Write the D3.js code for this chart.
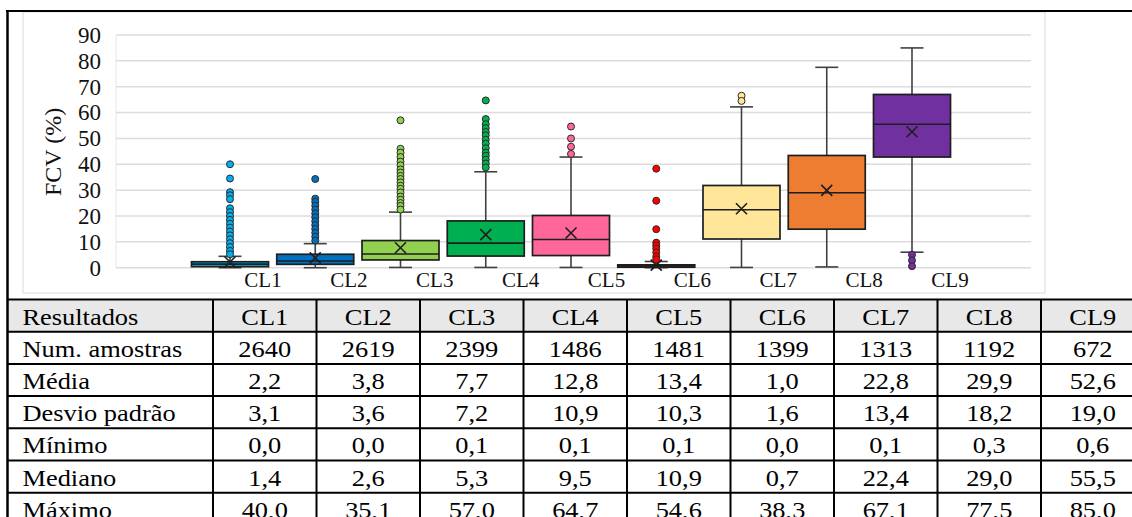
<!DOCTYPE html>
<html>
<head>
<meta charset="utf-8">
<script src="https://cdn.jsdelivr.net/npm/d3@7"></script>
<style>
  html, body { margin: 0; padding: 0; background: #fff; overflow: hidden; }
  svg { display: block; }
</style>
</head>
<body>
<div id="chart"></div>
<script>
// ─── DATA ────────────────────────────────────────────────────────────────────
const classes = ["CL1", "CL2", "CL3", "CL4", "CL5", "CL6", "CL7", "CL8", "CL9"];
const colors  = ["#00b0f0", "#0070c0", "#92d050", "#00b050", "#ff6699",
                 "#ff0000", "#ffe699", "#ed7d31", "#7030a0"];

// box plot values
const q1          = [0.4, 1.3, 3.0, 4.5, 4.7, 0.2, 11.1, 14.9, 42.8];
const medians     = [1.4, 2.6, 5.3, 9.5, 10.9, 0.7, 22.4, 29.0, 55.5];
const q3          = [2.3, 5.2, 10.5, 18.1, 20.2, 1.1, 31.8, 43.4, 67.0];
const means       = [2.2, 3.8, 7.7, 12.8, 13.4, 1.0, 22.8, 29.9, 52.6];
const whiskerLow  = [0.0, 0.0, 0.1, 0.1, 0.1, 0.0, 0.1, 0.3, 6.0];
const whiskerHigh = [4.4, 9.3, 21.5, 37.1, 42.8, 2.4, 62.2, 77.5, 85.0];
const outliers = [
  [40.0, 34.5, 29.2, 28.0, 26.5, 23.0, 21.5, 20.0, 18.5, 17.0, 15.5, 14.0, 12.5, 11.0, 9.5, 8.0, 6.5, 5.2],
  [34.3, 26.7, 25.5, 24.0, 22.5, 21.0, 19.5, 18.0, 16.5, 15.0, 13.5, 12.0, 10.5],
  [57.0, 46.0, 44.5, 42.8, 41.0, 39.6, 38.0, 36.8, 35.5, 34.3, 33.0, 31.7, 30.5, 29.1, 27.5, 26.3, 25.0, 23.9, 22.5],
  [64.7, 57.5, 55.5, 54.0, 52.5, 51.2, 49.5, 48.0, 46.2, 44.5, 43.3, 41.8, 40.3, 38.8],
  [54.6, 50.0, 46.8, 44.0],
  [38.3, 25.9, 14.9, 9.7, 8.6, 7.4, 5.9, 4.3, 3.2],
  [66.5, 64.5],
  [],
  [5.0, 2.8, 0.6]
];
const yTicks = [0, 10, 20, 30, 40, 50, 60, 70, 80, 90];

// table values
const rowLabels  = ["Num. amostras", "Média", "Desvio padrão", "Mínimo", "Mediano", "Máximo"];
const nAmostras  = [2640, 2619, 2399, 1486, 1481, 1399, 1313, 1192, 672];
const media      = [2.2, 3.8, 7.7, 12.8, 13.4, 1.0, 22.8, 29.9, 52.6];
const desvio     = [3.1, 3.6, 7.2, 10.9, 10.3, 1.6, 13.4, 18.2, 19.0];
const minimo     = [0.0, 0.0, 0.1, 0.1, 0.1, 0.0, 0.1, 0.3, 0.6];
const mediano    = [1.4, 2.6, 5.3, 9.5, 10.9, 0.7, 22.4, 29.0, 55.5];
const maximo     = [40.0, 35.1, 57.0, 64.7, 54.6, 38.3, 67.1, 77.5, 85.0];

// ─── SETUP ───────────────────────────────────────────────────────────────────
const W = 1132, H = 517;
const FONT = "'Liberation Serif', 'Times New Roman', serif";

const svg = d3.select("#chart").append("svg")
  .attr("width", W).attr("height", H)
  .style("font-family", FONT);

// caption line above the figure (only its lower edge is inside the picture)
svg.append("text")
  .attr("x", -2).attr("y", -5)
  .style("font-size", "23px").style("font-weight", "bold")
  .text("Figura 11 – FCV (a) por classe");

// chart frame (light grey)
svg.append("rect")
  .attr("x", 23).attr("y", 12).attr("width", 1022).attr("height", 281)
  .attr("fill", "#fff").attr("stroke", "#d9d9d9").attr("stroke-width", 1);

// scales
const y = d3.scaleLinear().domain([0, 90]).range([267.7, 35]);
const x = d3.scalePoint().domain(classes).range([230, 912]);
const xLabel = d3.scalePoint().domain(classes).range([263, 950]);
const plotLeft = 116, plotRight = 1031;
const boxW = 77, capW = 23, xSize = 5.5;

// gridlines
svg.append("g")
  .selectAll("line")
  .data(yTicks)
  .join("line")
  .attr("x1", plotLeft).attr("x2", plotRight)
  .attr("y1", d => y(d)).attr("y2", d => y(d))
  .attr("stroke", "#dcdcdc").attr("stroke-width", 1.5);

svg.append("line")
  .attr("x1", plotLeft).attr("x2", plotLeft)
  .attr("y1", y(90)).attr("y2", y(0))
  .attr("stroke", "#e6e6e6").attr("stroke-width", 1);

// y axis labels
svg.append("g")
  .selectAll("text")
  .data(yTicks)
  .join("text")
  .attr("x", 101).attr("y", d => y(d))
  .attr("dy", "0.34em")
  .attr("text-anchor", "end")
  .style("font-size", "23px")
  .attr("fill", "#111")
  .text(d => d);

svg.append("text")
  .attr("transform", `translate(61, 152) rotate(-90)`)
  .attr("text-anchor", "middle")
  .style("font-size", "24px")
  .attr("fill", "#111")
  .text("FCV (%)");

// x labels
svg.append("g")
  .selectAll("text")
  .data(classes)
  .join("text")
  .attr("x", d => xLabel(d)).attr("y", 287)
  .attr("text-anchor", "middle")
  .style("font-size", "21px")
  .attr("fill", "#111")
  .text(d => d);

// ─── BOX PLOTS ───────────────────────────────────────────────────────────────
const boxes = svg.append("g")
  .selectAll("g")
  .data(classes.map((c, i) => ({ c, i })))
  .join("g");

// whiskers
boxes.append("line")
  .attr("x1", d => x(d.c)).attr("x2", d => x(d.c))
  .attr("y1", d => y(whiskerLow[d.i])).attr("y2", d => y(whiskerHigh[d.i]))
  .attr("stroke", "#404040").attr("stroke-width", 1.6);

[whiskerLow, whiskerHigh].forEach(arr => {
  boxes.append("line")
    .attr("x1", d => x(d.c) - capW / 2).attr("x2", d => x(d.c) + capW / 2)
    .attr("y1", d => y(arr[d.i])).attr("y2", d => y(arr[d.i]))
    .attr("stroke", "#404040").attr("stroke-width", 1.6);
});

// box
boxes.append("rect")
  .attr("x", d => x(d.c) - boxW / 2)
  .attr("width", boxW)
  .attr("y", d => y(q3[d.i]))
  .attr("height", d => y(q1[d.i]) - y(q3[d.i]))
  .attr("fill", d => colors[d.i])
  .attr("stroke", "#1e1e1e").attr("stroke-width", 1.7);

// median
boxes.append("line")
  .attr("x1", d => x(d.c) - boxW / 2).attr("x2", d => x(d.c) + boxW / 2)
  .attr("y1", d => y(medians[d.i])).attr("y2", d => y(medians[d.i]))
  .attr("stroke", "#1e1e1e").attr("stroke-width", 1.6);

// mean marker (x)
boxes.append("path")
  .attr("d", d => {
    const cx = x(d.c), cy = y(means[d.i]);
    return `M${cx - xSize},${cy - xSize}L${cx + xSize},${cy + xSize}` +
           `M${cx - xSize},${cy + xSize}L${cx + xSize},${cy - xSize}`;
  })
  .attr("stroke", "#1e1e1e").attr("stroke-width", 1.6).attr("fill", "none");

// outliers
boxes.each(function (d) {
  d3.select(this).selectAll("circle")
    .data(outliers[d.i])
    .join("circle")
    .attr("cx", x(d.c))
    .attr("cy", v => y(v))
    .attr("r", 3.5)
    .attr("fill", colors[d.i])
    .attr("stroke", "#2a2a2a").attr("stroke-width", 1);
});

// ─── TABLE ───────────────────────────────────────────────────────────────────
const fmt = v => d3.format(".1f")(v).replace(".", ",");
const rows = [
  nAmostras.map(String),
  media.map(fmt),
  desvio.map(fmt),
  minimo.map(fmt),
  mediano.map(fmt),
  maximo.map(fmt)
];

const tableTop = 299.5, rowH = 32.2, firstColLeft = 7;
const col = d3.scaleBand().domain(classes).range([213, 213 + 9 * 103.5]);
const rowY = d3.scaleLinear().domain([0, 1]).range([tableTop, tableTop + rowH]);

const table = svg.append("g").style("font-size", "24px");

// header background
table.append("rect")
  .attr("x", firstColLeft).attr("y", rowY(0))
  .attr("width", W - firstColLeft).attr("height", rowH)
  .attr("fill", "#e8e8e8");

// horizontal lines
table.selectAll("line.h")
  .data(d3.range(0, 8))
  .join("line")
  .attr("class", "h")
  .attr("x1", firstColLeft).attr("x2", W)
  .attr("y1", d => rowY(d)).attr("y2", d => rowY(d))
  .attr("stroke", "#000").attr("stroke-width", 2);

// vertical lines
table.selectAll("line.v")
  .data(classes)
  .join("line")
  .attr("class", "v")
  .attr("x1", d => col(d)).attr("x2", d => col(d))
  .attr("y1", rowY(0)).attr("y2", H)
  .attr("stroke", "#000").attr("stroke-width", 2);

// header texts
table.append("text")
  .attr("transform", `translate(22.5, ${rowY(0) + 25}) scale(1.1,1)`)
  .text("Resultados");

table.selectAll("text.hd")
  .data(classes)
  .join("text")
  .attr("class", "hd")
  .attr("text-anchor", "middle")
  .attr("transform", d => `translate(${col(d) + col.bandwidth() / 2}, ${rowY(0) + 25}) scale(1.1,1)`)
  .text(d => d);

// body
rows.forEach((vals, r) => {
  const by = rowY(r + 1) + 25;
  table.append("text")
    .attr("transform", `translate(22.5, ${by}) scale(1.1,1)`)
    .text(rowLabels[r]);
  table.append("g")
    .selectAll("text")
    .data(vals)
    .join("text")
    .attr("text-anchor", "middle")
    .attr("transform", (v, i) => `translate(${col(classes[i]) + col.bandwidth() / 2}, ${by}) scale(1.1,1)`)
    .text(v => v);
});

// ─── OUTER FRAME ─────────────────────────────────────────────────────────────
svg.append("line")
  .attr("x1", 6).attr("x2", W).attr("y1", 11).attr("y2", 11)
  .attr("stroke", "#000").attr("stroke-width", 2);
svg.append("line")
  .attr("x1", 7.5).attr("x2", 7.5).attr("y1", 10).attr("y2", H)
  .attr("stroke", "#000").attr("stroke-width", 2.5);
</script>
</body>
</html>
